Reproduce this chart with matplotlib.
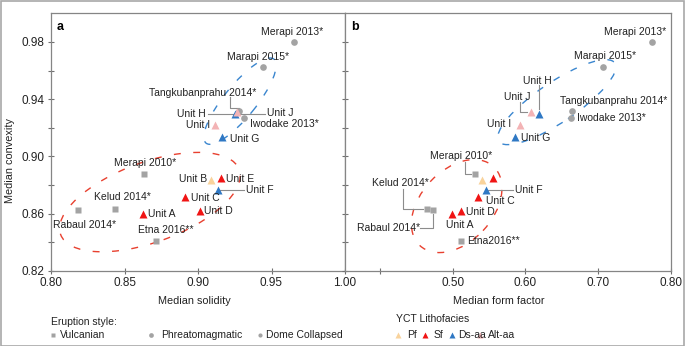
import matplotlib
matplotlib.use("Agg")
import matplotlib.pyplot as plt
from matplotlib.patches import Ellipse, Rectangle
from matplotlib.lines import Line2D
from matplotlib.transforms import Affine2D, ScaledTranslation

plt.rcParams['font.family'] = ['Liberation Sans', 'DejaVu Sans']

# reference eruptions
volcanoes = ['Merapi 2013*', 'Marapi 2015*', 'Tangkubanprahu 2014*', 'Iwodake 2013*',
             'Merapi 2010*', 'Kelud 2014*', 'Rabaul 2014*', 'Etna 2016**']
volcano_style = ['Dome Collapsed', 'Phreatomagmatic', 'Phreatomagmatic', 'Phreatomagmatic',
                 'Vulcanian', 'Vulcanian', 'Vulcanian', 'Vulcanian']
volcano_solidity = [0.965, 0.944, 0.928, 0.9315, 0.863, 0.8437, 0.8186, 0.8712]
volcano_formfactor = [0.774, 0.706, 0.664, 0.662, 0.531, 0.4646, 0.4729, 0.512]
volcano_convexity = [0.980, 0.9626, 0.932, 0.927, 0.8878, 0.8633, 0.8626, 0.8405]

# YCT units
units = ['Unit A', 'Unit B', 'Unit C', 'Unit D', 'Unit E',
         'Unit F', 'Unit G', 'Unit H', 'Unit I', 'Unit J']
unit_facies = ['Sf', 'Pf', 'Sf', 'Sf', 'Sf', 'Ds-aa', 'Ds-aa', 'Ds-aa', 'Alt-aa', 'Alt-aa']
unit_solidity = [0.8624, 0.9086, 0.8912, 0.9014, 0.9159, 0.9138, 0.9165, 0.9252, 0.9116, 0.9267]
unit_formfactor = [0.4996, 0.540, 0.5353, 0.511, 0.555, 0.5463, 0.5862, 0.6183, 0.592, 0.6073]
unit_convexity = [0.8594, 0.8834, 0.8717, 0.8617, 0.8846, 0.8766, 0.9136, 0.9295, 0.9218, 0.9307]

facies_colors = {'Pf': '#f9d39c', 'Sf': '#f01414', 'Ds-aa': '#2f78c4', 'Alt-aa': '#f3b3b5'}
style_markers = {'Vulcanian': 's', 'Phreatomagmatic': 'o', 'Dome Collapsed': 'o'}
GREY = '#a3a3a3'
LINE = '#8c8c8c'

# label layout: name -> (dx, dy, ha, leader) in pixels relative to the point
labels_a = {
    'Merapi 2013*': (-1, 10, 'center', None),
    'Marapi 2015*': (-5, 10, 'center', None),
    'Tangkubanprahu 2014*': (-36, 18, 'center', [(-9, 14), (-9, 3), (0, 3)]),
    'Iwodake 2013*': (6, -6, 'left', None),
    'Merapi 2010*': (2, 11, 'center', None),
    'Kelud 2014*': (7, 12, 'center', None),
    'Rabaul 2014*': (6, -15, 'center', None),
    'Etna 2016**': (10, 11, 'center', None),
    'Unit A': (5, 0, 'left', None),
    'Unit B': (-4, 1, 'right', None),
    'Unit C': (6, -1, 'left', None),
    'Unit D': (4, 0, 'left', None),
    'Unit E': (5, -1, 'left', None),
    'Unit F': (28, 0, 'left', [(0, 0), (26, 0)]),
    'Unit G': (8, -2, 'left', None),
    'Unit H': (-29, 0, 'right', [(-27, 0), (0, 0)]),
    'Unit I': (-5, 0, 'right', None),
    'Unit J': (30, -1, 'left', [(3, -2), (28, -2)]),
}
labels_b = {
    'Merapi 2013*': (-17, 10, 'center', None),
    'Marapi 2015*': (2, 11, 'center', None),
    'Tangkubanprahu 2014*': (42, 10, 'center', None),
    'Iwodake 2013*': (6, 0, 'left', None),
    'Merapi 2010*': (-14, 18, 'center', [(-10, 12), (-10, 0), (-4, 0)]),
    'Kelud 2014*': (-26, 26, 'center', [(-24, 20), (-24, 0), (-4, 0)]),
    'Rabaul 2014*': (-44, -18, 'center', [(-13, -18), (0, -18), (0, -4)]),
    'Etna 2016**': (6, 0, 'left', None),
    'Unit A': (7, -11, 'center', None),
    'Unit C': (8, -4, 'left', None),
    'Unit D': (5, -1, 'left', None),
    'Unit F': (29, 0, 'left', [(0, 0), (27, 0)]),
    'Unit G': (6, -1, 'left', None),
    'Unit H': (-1, 33, 'center', [(0, 29), (0, 5)]),
    'Unit I': (-9, 1, 'right', None),
    'Unit J': (-14, 15, 'center', [(-11, 10), (-11, 0), (-4, 0)]),
}
text_b = {'Etna 2016**': 'Etna2016**'}

# dashed envelopes: (centre x, centre y, width px, height px, angle, colour)
ellipses_a = [(0.8673, 0.868, 190, 80, 20, '#e8402f'),
              (0.9286, 0.9386, 108, 32, 51, '#3a86cf')]
ellipses_b = [(0.5055, 0.8652, 108, 72, 47, '#e8402f'),
              (0.6431, 0.9379, 140, 40, 34, '#3a86cf')]

fig = plt.figure(figsize=(6.85, 3.46), dpi=100)
W, H = 685, 346
ax_a = fig.add_axes([51 / W, 1 - 270.7 / H, 294 / W, 257.3 / H])
ax_b = fig.add_axes([345 / W, 1 - 270.7 / H, 326 / W, 257.3 / H])


def px_trans(ax, x, y):
    # pixel offsets around a data point
    return Affine2D().scale(0.01) + fig.dpi_scale_trans + ScaledTranslation(x, y, ax.transData)


def draw_panel(ax, vx, ux, labels, ellipses, names=None):
    names = names or {}
    for cx, cy, w, h, ang, col in ellipses:
        ax.add_patch(Ellipse((0, 0), w, h, angle=ang, fill=False, edgecolor=col, lw=1.0,
                             linestyle=(0, (5, 9)), transform=px_trans(ax, cx, cy), zorder=1))
    for name, x, y, st in zip(volcanoes, vx, volcano_convexity, volcano_style):
        ax.plot(x, y, marker=style_markers[st], ms=4.8, color=GREY, mec='none', zorder=3)
    for name, x, y, fc in zip(units, ux, unit_convexity, unit_facies):
        ax.plot(x, y, marker='^', ms=6.3, color=facies_colors[fc], mec='none', zorder=4)
    allx = dict(zip(volcanoes + units, list(vx) + list(ux)))
    ally = dict(zip(volcanoes + units, volcano_convexity + unit_convexity))
    for name, (dx, dy, ha, leader) in labels.items():
        x, y = allx[name], ally[name]
        ax.annotate(names.get(name, name), (x, y), xytext=(dx, dy), textcoords='offset pixels',
                    ha=ha, va='center', fontsize=7.5, color='#222222', zorder=5)
        if leader:
            lx = [p[0] for p in leader]
            ly = [p[1] for p in leader]
            ax.add_line(Line2D(lx, ly, color=LINE, lw=0.8, transform=px_trans(ax, x, y), zorder=2))


draw_panel(ax_a, volcano_solidity, unit_solidity, labels_a, ellipses_a)
draw_panel(ax_b, volcano_formfactor, unit_formfactor, labels_b, ellipses_b, text_b)

yticks = [0.82, 0.84, 0.86, 0.88, 0.90, 0.92, 0.94, 0.96, 0.98]
for ax in (ax_a, ax_b):
    ax.set_ylim(0.82, 1.00)
    ax.set_yticks(yticks)
    for s in ax.spines.values():
        s.set_color('#858585')
        s.set_linewidth(0.9)
    ax.tick_params(direction='inout', length=5, width=0.8, color='#707070',
                   labelsize=8.5, labelcolor='#222222', pad=2)

ax_a.set_xlim(0.80, 1.00)
ax_a.set_xticks([0.80, 0.85, 0.90, 0.95, 1.00])
ax_a.set_xticklabels(['0.80', '0.85', '0.90', '0.95', '1.00'])
ax_a.set_yticklabels(['0.82', '', '0.86', '', '0.90', '', '0.94', '', '0.98'])

ax_b.set_xlim(0.352, 0.80)
ax_b.set_xticks([0.40, 0.50, 0.60, 0.70, 0.80])
ax_b.set_xticklabels(['', '0.50', '0.60', '0.70', '0.80'])
ax_b.set_yticklabels([])

ax_a.set_xlabel('Median solidity', fontsize=7.8, color='#222222')
ax_a.xaxis.set_label_coords(0.486, -0.10)
ax_b.set_xlabel('Median form factor', fontsize=7.8, color='#222222')
ax_b.xaxis.set_label_coords(0.472, -0.10)
ax_a.set_ylabel('Median convexity', fontsize=7.8, color='#222222')
ax_a.yaxis.set_label_coords(-0.122, 0.43)

ax_a.text(0.02, 0.947, 'a', transform=ax_a.transAxes, fontsize=9, fontweight='bold', va='center')
ax_b.text(0.02, 0.947, 'b', transform=ax_b.transAxes, fontsize=9, fontweight='bold', va='center')

# legend built in figure pixels
def fx(p):
    return p / W


def fy(p):
    return 1 - p / H


fig.text(fx(50.7), fy(321.7), 'Eruption style:', fontsize=7.5, va='center', color='#222222')
style_legend = [('Vulcanian', 52.7, 60, 3.2), ('Phreatomagmatic', 150.7, 160.7, 3.4),
                ('Dome Collapsed', 260, 265.7, 3.0)]
for st, mx, tx, ms in style_legend:
    fig.add_artist(Line2D([fx(mx)], [fy(335)], marker=style_markers[st], ms=ms, color=GREY,
                          mec='none', transform=fig.transFigure))
    fig.text(fx(tx), fy(335), st, fontsize=7.5, va='center', color='#222222')

fig.text(fx(396), fy(319), 'YCT Lithofacies', fontsize=7.5, va='center', color='#222222')
facies_legend = [('Pf', 398.3, 407.3), ('Sf', 425, 434), ('Ds-aa', 452, 458.3), ('Alt-aa', 480, 488.3)]
for fc, mx, tx in facies_legend:
    fig.add_artist(Line2D([fx(mx)], [fy(334.5)], marker='^', ms=5, color=facies_colors[fc],
                          mec='none', transform=fig.transFigure))
    fig.text(fx(tx), fy(335), fc, fontsize=7.5, va='center', color='#222222')

fig.add_artist(Rectangle((0.5 / W, 0.5 / H), 1 - 1.5 / W, 1 - 1.5 / H, fill=False,
                         edgecolor='#a8a8a8', lw=1.2, transform=fig.transFigure))

fig.savefig('out.png', dpi=100)
